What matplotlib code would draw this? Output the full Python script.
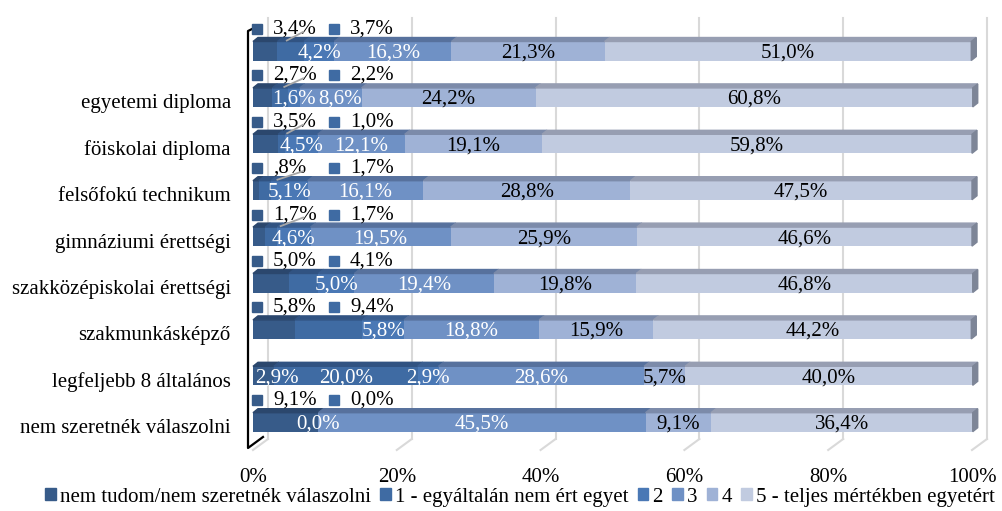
import numpy as np
import matplotlib.pyplot as plt
import matplotlib.colors as mcolors
from matplotlib.patches import Polygon, Patch

plt.rcParams['font.family'] = ['Liberation Serif', 'DejaVu Serif']

categories = ['', 'egyetemi diploma', 'föiskolai diploma', 'felsőfokú technikum',
              'gimnáziumi érettségi', 'szakközépiskolai érettségi', 'szakmunkásképző',
              'legfeljebb 8 általános', 'nem szeretnék válaszolni']
series = ['nem tudom/nem szeretnék válaszolni', '1 - egyáltalán nem ért egyet',
          '2', '3', '4', '5 - teljes mértékben egyetért']

nem_tudom = [3.4, 2.7, 3.5, 0.8, 1.7, 5.0, 5.8, 2.9, 9.1]
egy = [3.7, 2.2, 1.0, 1.7, 1.7, 4.1, 9.4, 20.0, 0.0]
ketto = [4.2, 1.6, 4.5, 5.1, 4.6, 5.0, 5.8, 2.9, 0.0]
harom = [16.3, 8.6, 12.1, 16.1, 19.5, 19.4, 18.8, 28.6, 45.5]
negy = [21.3, 24.2, 19.1, 28.8, 25.9, 19.8, 15.9, 5.7, 9.1]
ot = [51.0, 60.8, 59.8, 47.5, 46.6, 46.8, 44.2, 40.0, 36.4]

# rows whose first two labels sit above the bar, and which of those got a leader line
labels_above = [True, True, True, True, True, True, True, False, True]
leader = [True, True, True, True, True, False, False, False, False]

colors = ['#375b89', '#3f6ba3', '#4a78b5', '#6f91c5', '#9fb2d6', '#c1cbe0']


def fmt(v):
    s = f"{v:.1f}".replace('.', ',')
    if 0 < v < 1:
        s = s[1:]
    return s + '%'


def darker(c, f=0.78):
    r, g, b = mcolors.to_rgb(c)
    return (r * f, g * f, min(1, b * f * 1.02))


W, H = 1002, 511
fig = plt.figure(figsize=(W / 100, H / 100), dpi=100)
ax = fig.add_axes([253 / W, (H - 450) / H, 719 / W, 435 / H])
ax.set_xlim(0, 100)
ax.set_ylim(8.599, -0.776)
px_x = 100 / 719
px_y = 1 / 46.4

n = len(categories)
y = np.arange(n)
cols = [nem_tudom, egy, ketto, harom, negy, ot]

# back wall grid lines + floor diagonals
back_dx, back_dy = 15 * px_x, -11 * px_y
ytop = (18 - 51) * px_y
yfloor = 8.599
for k in range(0, 101, 20):
    ax.plot([k + back_dx, k + back_dx], [ytop, yfloor + back_dy], color='#d9d9d9', lw=1.5,
            zorder=1, clip_on=False)
    ax.plot([k + back_dx, k], [yfloor + back_dy, yfloor], color='#d9d9d9', lw=1.5,
            zorder=1, clip_on=False)

# left axis wall edge
ax_x = -5 * px_x
ax.plot([ax_x + 6 * px_x, ax_x, ax_x, ax_x + back_dx], [(28 - 51) * px_y, (31 - 51) * px_y,
        yfloor - 2 * px_y, yfloor - 2 * px_y + back_dy], color='black', lw=1.6,
        clip_on=False, zorder=2)

# 3D-ish bars
h = 19 * px_y
dx, dy = 5 * px_x, -4 * px_y
left = np.zeros(n)
for j, vals in enumerate(cols):
    vals = np.array(vals)
    ax.barh(y, vals, left=left, height=h, color=colors[j], zorder=3)
    for i in range(n):
        if vals[i] <= 0:
            continue
        l, r = left[i], left[i] + vals[i]
        yt = y[i] - h / 2
        ax.add_patch(Polygon([(l, yt), (r, yt), (r + dx, yt + dy), (l + dx, yt + dy)],
                             closed=True, color=darker(colors[j]), zorder=3, clip_on=False))
    left = left + vals
for i in range(n):
    r = left[i]
    yt, yb = y[i] - h / 2, y[i] + h / 2
    ax.add_patch(Polygon([(r, yt), (r + dx, yt + dy), (r + dx, yb + dy), (r, yb)],
                         closed=True, color='#7d8597', zorder=3, clip_on=False))

# data labels
for i in range(n):
    cum = 0
    prev_right = -1e9
    for j, vals in enumerate(cols):
        v = vals[i]
        center = cum + v / 2
        cum += v
        s = fmt(v)
        if labels_above[i] and j < 2:
            ly = y[i] - 22 * px_y
            mx = (4 + 77 * j) * px_x
            tx = (20 + 77 * j) * px_x
            ax.plot(mx, ly, marker='s', ms=7, color=colors[j], zorder=4, clip_on=False)
            ax.text(tx, ly, s, fontsize=15, ha='left', va='center', zorder=5)
            if j == 0 and leader[i]:
                ax.plot([tx + 30 * px_x, center + 3.0], [ly + 3 * px_y, y[i] - h / 2 - 1 * px_y],
                        color='#a6a6a6', lw=1.3, zorder=6)
            continue
        w = 10 * len(s) * px_x
        cx = max(center, w / 2 + 4 * px_x)
        if cx - w / 2 < prev_right + 6 * px_x:
            cx = prev_right + 6 * px_x + w / 2
        prev_right = cx + w / 2
        ax.text(cx, y[i] + 2 * px_y, s, fontsize=15, ha='center', va='center',
                color='white' if j < 4 else 'black', zorder=5)

ax.set_xticks(range(0, 101, 20))
ax.set_xticklabels([f'{k}%' for k in range(0, 101, 20)])
ax.set_yticks(y + 4 * px_y)
ax.set_yticklabels(categories)
ax.tick_params(axis='x', length=0, pad=13, labelsize=15)
ax.tick_params(axis='y', length=0, pad=16, labelsize=15)
for s in ax.spines.values():
    s.set_visible(False)

handles = [Patch(color=c) for c in colors]
fig.legend(handles, series, loc='center', bbox_to_anchor=(520 / W, (H - 497) / H), ncol=6,
           frameon=False, handlelength=0.5, handleheight=0.5, handletextpad=0.2,
           columnspacing=0.45, fontsize=15, borderaxespad=0, borderpad=0)

fig.savefig('out.png', dpi=100)
